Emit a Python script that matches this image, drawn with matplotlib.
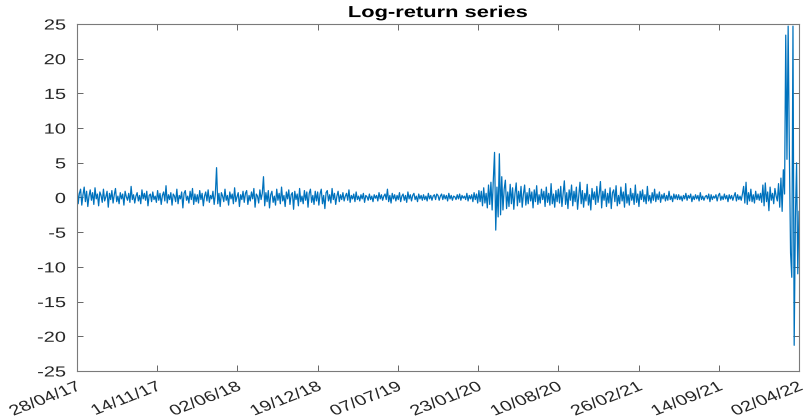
import numpy as np
import pandas as pd
import matplotlib
matplotlib.use("Agg")
import matplotlib.pyplot as plt
from matplotlib.patheffects import AbstractPathEffect
from matplotlib.transforms import Affine2D

plt.rcParams['font.family'] = ['Liberation Sans', 'DejaVu Sans']

# segment start dates (each segment sampled every 3 days)
seg_starts = ['2017-04-28', '2018-02-22', '2018-12-19', '2019-10-15', '2020-08-10', '2021-06-06']
step_days = 3

ret_a = [1.8, -0.9, 0.6, 1.2, -1.1, 0.4, 1.5, -0.6, 0.9, -1.3, 0.2, 1.1, -0.4, 0.7, -1.0, 1.4, -0.2, 0.5, -1.2, 0.8,
         0.3, -0.7, 1.2, -0.5, 0.1, 0.9, -1.4, 0.6, -0.3, 1.0, -0.8, 0.4, 1.3, -0.6, 0.2, -0.9, 0.7, -0.2, 0.5, -1.1,
         0.9, 0.1, -0.4, 0.6, -0.7, 1.6, -0.3, 0.4, -0.8, 0.2, 0.7, -0.5, 0.3, -0.9, 1.1, -0.2, 0.6, -0.4, 0.9, -1.2,
         0.3, 0.5, -0.6, 0.8, -0.3, 0.2, -0.7, 1.0, -0.4, 0.6, -1.0, 0.3, 0.8, -0.5, 1.7, -0.8, 0.4, -0.3, 0.7, -1.1,
         0.5, 0.2, -0.6, 1.2, -0.9, 0.3, -0.2, 0.8, -1.5, 0.6, 1.0, -0.4, 0.2, -0.8, 0.9, -0.3, 1.3, -1.0, 0.5, -0.6]
ret_b = [0.4, -0.8, 1.0, -0.3, 0.6, -1.2, 0.2, 0.8, -0.5, 1.1, -0.7, 0.3, -0.2, 0.9, -1.0, 0.5, 4.3, -0.9, 0.6, -1.3,
         0.7, 0.2, -0.6, 1.2, -0.4, 0.3, -1.1, 0.8, -0.2, 0.5, -0.9, 1.4, -0.6, 0.1, 0.7, -1.3, 0.4, -0.3, 0.9, -0.7,
         0.6, 1.0, -1.0, 0.3, -0.5, 0.8, -0.2, 1.3, -1.4, 0.5, 0.2, -0.8, 1.1, -0.3, 0.6, 3.0, -1.2, 0.7, -0.6, 1.0,
         -1.5, 0.4, 0.9, -0.7, 0.2, -1.1, 1.2, -0.4, 0.6, -0.9, 1.5, -0.5, 0.3, -1.3, 0.8, -0.2, 1.1, -1.0, 0.4, 0.7,
         -1.7, 0.9, -0.3, 0.5, -1.2, 1.3, -0.6, 0.2, -0.9, 1.0, -0.4, 0.8, -1.4, 0.6, 1.2, -0.7, 0.3, -1.0, 0.9, -0.5]
ret_c = [0.8, -1.1, 0.5, 1.2, -0.9, 0.3, -1.6, 0.7, 1.0, -0.5, 0.4, -0.8, 1.3, -0.3, 0.6, -1.0, 0.2, 0.9, -0.6, 0.4,
         -0.3, 0.7, -0.5, 0.2, 0.6, -0.4, 1.1, -0.7, 0.3, -0.2, 0.5, -0.6, 0.8, -0.3, 0.2, -0.5, 0.4, -0.2, 0.6, -0.7,
         0.3, 0.1, -0.4, 0.5, -0.3, 0.2, -0.6, 0.4, -0.1, 0.3, -0.5, 0.7, -0.2, 0.4, -0.4, 0.2, 0.5, -0.3, 1.2, -0.6,
         0.3, -0.8, 0.6, -0.2, 0.4, -0.5, 0.3, -0.3, 0.7, -0.6, 0.2, 0.5, -0.4, 0.3, -0.7, 0.8, -0.2, 0.4, -0.5, 0.3,
         0.6, -0.3, 0.2, -0.6, 0.5, -0.2, 0.3, -0.4, 0.4, -0.3, 0.2, -0.5, 0.6, -0.2, 0.3, -0.4, 0.2, 0.4, -0.3, 0.5]
ret_d = [0.3, -0.4, 0.2, 0.5, -0.3, 0.4, -0.2, 0.3, -0.5, 0.6, -0.2, 0.3, -0.4, 0.2, 0.1, -0.3, 0.4, -0.2, 0.5, -0.4,
         0.3, -0.1, 0.2, -0.3, 0.6, -0.5, 0.3, -0.2, 0.4, -0.6, 0.7, -0.3, 0.5, -0.8, 1.0, -0.6, 0.9, -1.2, 1.4, -0.8,
         0.6, -1.5, 1.8, -1.0, 2.2, -1.8, 2.6, 6.5, -4.7, 1.5, -2.8, 6.3, -2.5, 3.0, -1.8, 1.2, 2.5, -1.6, 0.8, -1.3,
         1.9, -0.9, 1.4, -1.7, 0.6, 2.1, -1.2, 0.9, -0.7, 1.6, -1.4, 0.5, 1.8, -1.1, 0.7, -0.9, 1.3, -0.5, 0.8, -1.5,
         1.1, -0.6, 1.7, -1.0, 0.4, -0.8, 1.2, -0.3, 0.9, -1.3, 1.5, -0.7, 0.6, -1.1, 2.0, -0.9, 0.5, -1.4, 1.0, -0.6]
ret_e = [1.2, -0.8, 1.6, -1.3, 0.5, 2.4, -1.0, 0.7, -1.6, 1.1, -0.4, 1.8, -1.2, 0.9, -0.6, 1.5, -1.7, 0.3, 2.2, -0.9,
         1.0, -1.4, 0.6, -0.5, 1.9, -1.1, 0.4, -1.8, 1.3, -0.3, 0.8, -1.0, 1.6, -0.7, 0.5, 2.3, -1.5, 0.9, -0.4, 1.2,
         -1.3, 0.6, -0.8, 1.4, -1.6, 0.7, 1.1, -0.6, 1.7, -1.2, 0.3, -0.9, 1.5, -0.5, 0.8, -1.4, 2.0, -0.8, 0.4, -1.1,
         1.3, -0.4, 0.6, -1.0, 1.8, -0.7, 0.5, -1.3, 0.9, -0.3, 1.1, -0.6, 0.4, -0.9, 1.6, -0.5, 0.3, -0.8, 0.7, -0.4,
         1.2, -0.6, 0.5, -0.3, 0.8, -0.7, 0.4, -0.2, 0.6, -0.5, 0.3, -0.4, 0.9, -0.3, 0.2, -0.6, 0.5, -0.2, 0.4, -0.3]
ret_f = [0.4, -0.3, 0.2, -0.5, 0.3, -0.2, 0.6, -0.4, 0.3, -0.1, 0.5, -0.6, 0.2, -0.3, 0.4, -0.2, 0.3, -0.5, 0.7, -0.3,
         0.2, -0.4, 0.1, 0.3, -0.2, 0.5, -0.6, 0.4, -0.3, 0.2, -0.1, 0.4, -0.5, 0.3, 0.6, -0.4, 0.2, -0.3, 0.5, -0.2,
         0.3, -0.6, 0.4, -0.2, 0.3, -0.4, 0.2, 0.7, -0.5, 0.4, -0.3, 0.2, -0.4, 0.5, 1.6, -0.8, 2.2, -1.0, 0.7, -0.5,
         1.2, -0.6, 0.4, -0.8, 0.9, -0.3, 0.5, -0.4, 0.6, -0.7, 1.8, -1.2, 2.1, -0.6, 0.8, -1.9, 1.5, -0.4, 0.6, -0.9,
         1.3, 0.2, -0.5, 2.0, -1.4, 2.8, -2.0, 4.0, 0.5, 23.4, 5.5, 24.7, 6.4, -8.0, -11.5, 24.7, -21.3, -3.0, 5.0, -11.0,
         -2.0]

segments = [ret_a, ret_b, ret_c, ret_d, ret_e, ret_f]

tick_dates = ['2017-04-28', '2017-11-14', '2018-06-02', '2018-12-19', '2019-07-07',
              '2020-01-23', '2020-08-10', '2021-02-26', '2021-09-14', '2022-04-02']
y_ticks = [-25, -20, -15, -10, -5, 0, 5, 10, 15, 20, 25]


class HStretch(AbstractPathEffect):
    """Widen text horizontally (in display space) about an anchor on its baseline."""
    def __init__(self, sx=1.37, align=0.5):
        super().__init__()
        self.sx = sx
        self.align = align

    def draw_path(self, renderer, gc, tpath, affine, rgbFace=None):
        if len(tpath.vertices) == 0:
            return
        w = tpath.get_extents().x1
        px, py = affine.transform((self.align * w, 0.0))
        t = affine + Affine2D().translate(-px, -py).scale(self.sx, 1.0).translate(px, py)
        renderer.draw_path(gc, tpath, t, rgbFace)


SX = 1.37

dates = []
values = []
for s, seg in zip(seg_starts, segments):
    d0 = pd.Timestamp(s)
    dates.extend([d0 + pd.Timedelta(days=step_days * k) for k in range(len(seg))])
    values.extend(seg)
dates = pd.to_datetime(dates)

fig = plt.figure(figsize=(8.06, 4.16), dpi=100)
ax = fig.add_axes([0.0955, 0.1082, 0.8958, 0.8341])
ax.plot(dates, values, color='#0072BD', linewidth=0.9)

td = pd.to_datetime(tick_dates)
ax.set_xlim(td[0], td[-1])
ax.set_ylim(-25, 25)
ax.set_xticks(td)
ax.set_xticklabels([d.strftime('%d/%m/%y') for d in td], rotation=28, ha='right',
                   rotation_mode='anchor', fontsize=10.5, color='#262626')
ax.set_yticks(y_ticks)
ax.set_yticklabels([str(v) for v in y_ticks], fontsize=10.5, color='#262626')
ax.tick_params(axis='both', direction='in', length=4, width=0.6, color='#4d4d4d', top=True, right=True)
ax.tick_params(axis='y', pad=8)
ax.tick_params(axis='x', pad=6)
for lbl in ax.get_xticklabels() + ax.get_yticklabels():
    lbl.set_path_effects([HStretch(SX, 1.0)])
for sp in ax.spines.values():
    sp.set_color('#7a7a7a')
    sp.set_linewidth(0.8)
title = ax.set_title('Log-return series', fontsize=11.5, fontweight='bold', pad=5)
title.set_path_effects([HStretch(SX, 0.5)])

fig.savefig('out.png', dpi=100)
